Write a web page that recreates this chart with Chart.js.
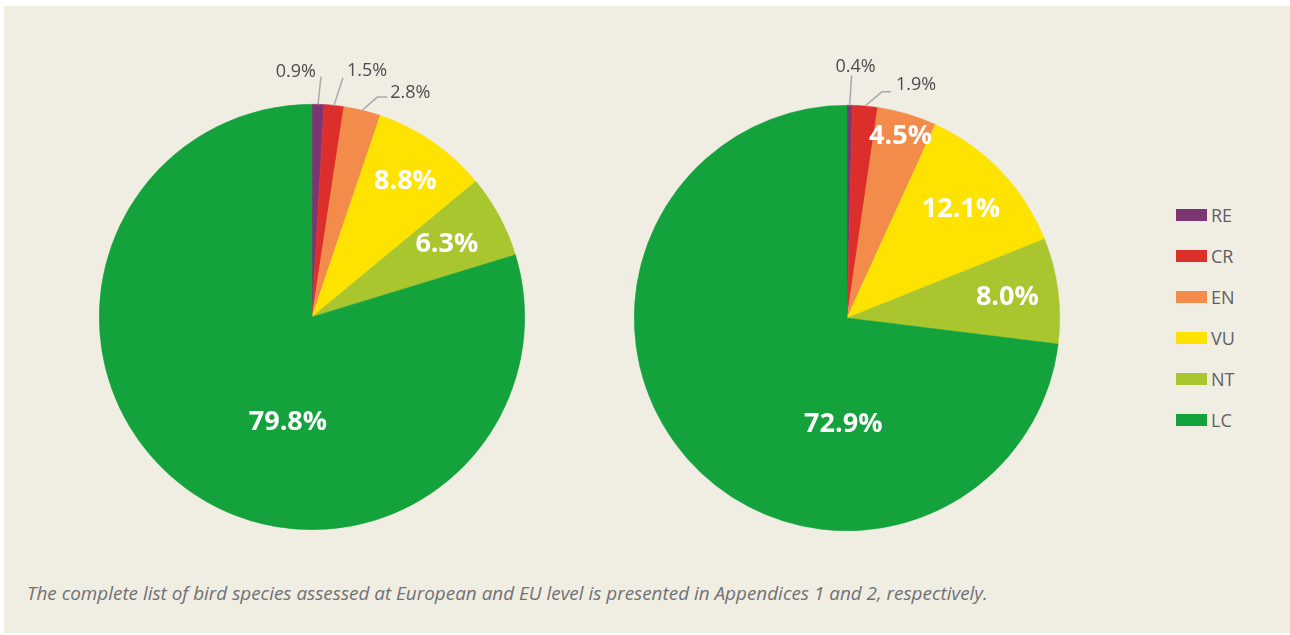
<!DOCTYPE html>
<html>
<head>
<meta charset="utf-8">
<script src="https://cdn.jsdelivr.net/npm/chart.js@4"></script>
<style>
  html, body { margin: 0; padding: 0; background: #fff; }
  body { width: 1290px; height: 635px; position: relative; overflow: hidden; font-family: "Open Sans", sans-serif; }
  #panel { position: absolute; left: 4px; top: 6px; width: 1286px; height: 627px; background: #f0ede3; }
  .pie { position: absolute; width: 520px; height: 520px; }
  #pie-eu27 { left: 52px; top: 57px; }
  #pie-eu { left: 587px; top: 58px; }
  #legend { position: absolute; left: 1176px; top: 194px; }
  .lg-item { height: 41px; display: flex; align-items: center; }
  .lg-sw { width: 31px; height: 12px; margin-right: 4px; }
  .lg-txt { font-size: 18px; color: #5f6062; }
  #caption { position: absolute; left: 27px; top: 580px; font-size: 18.9px; font-style: italic; color: #707173; white-space: nowrap; }
</style>
</head>
<body>
<div id="panel"></div>
<div class="pie" id="pie-eu27"><canvas id="c-left" width="520" height="520"></canvas></div>
<div class="pie" id="pie-eu"><canvas id="c-right" width="520" height="520"></canvas></div>
<div id="legend"></div>
<div id="caption">The complete list of bird species assessed at European and EU level is presented in Appendices 1 and 2, respectively.</div>

<script>
// ---- данные ----
const categories   = ["RE", "CR", "EN", "VU", "NT", "LC"];
const colors       = ["#7c3671", "#dc2e2a", "#f38c4b", "#ffe300", "#a9c62f", "#13a23b"];
const europeValues = [0.9, 1.5, 2.8, 8.8, 6.3, 79.8];
const euValues     = [0.4, 1.9, 4.5, 12.1, 8.0, 72.9];

// подписи внутри: доля радиуса (null = подпись снаружи), угол по часовой от верха (null = середина сектора)
const europeInRadius = [null, null, null, 0.775, 0.72, 0.51];
const europeInAngle  = [null, null, null, null, null, 192.8];
const euInRadius     = [null, null, 0.89, 0.74, 0.76, 0.5];
const euInAngle      = [null, null, null, null, null, 182];

// выноски: длина, наклон (град), горизонтальный хвост, выравнивание текста, сдвиг текста
const europeLeaders = [
  { len: 28, tilt: 4.5, hook: 0,  align: "right",  dx: -5, dy: -5 },
  { len: 29, tilt: 12,  hook: 0,  align: "left",   dx: 4,  dy: -7 },
  { len: 20, tilt: 35,  hook: 10, align: "left",   dx: 3,  dy: -4 },
];
const euLeaders = [
  { len: 30, tilt: 3,   hook: 0,  align: "center", dx: 4,  dy: -8 },
  { len: 22, tilt: 45,  hook: 9,  align: "left",   dx: 5,  dy: -7 },
];

const fmt = v => v.toFixed(1) + "%";

const pieLabels = {
  id: "pieLabels",
  afterDatasetsDraw(chart, args, opts) {
    const ctx = chart.ctx;
    const meta = chart.getDatasetMeta(0);
    const values = chart.data.datasets[0].data;
    ctx.save();
    meta.data.forEach((arc, i) => {
      const p = arc.getProps(["x", "y", "startAngle", "endAngle", "outerRadius"], true);
      const mid = (p.startAngle + p.endAngle) / 2;
      const frac = opts.inRadius[i];
      if (frac != null) {
        const a = opts.inAngle[i] != null ? (opts.inAngle[i] - 90) * Math.PI / 180 : mid;
        const r = p.outerRadius * frac;
        ctx.font = "bold 27px 'Open Sans'";
        ctx.fillStyle = "#ffffff";
        ctx.textAlign = "center";
        ctx.textBaseline = "middle";
        ctx.fillText(fmt(values[i]), p.x + Math.cos(a) * r, p.y + Math.sin(a) * r);
        return;
      }
      const ld = opts.leaders[i];
      if (!ld) return;
      const x0 = p.x + Math.cos(mid) * p.outerRadius;
      const y0 = p.y + Math.sin(mid) * p.outerRadius;
      const dir = mid + ld.tilt * Math.PI / 180;
      const x1 = x0 + Math.cos(dir) * ld.len;
      const y1 = y0 + Math.sin(dir) * ld.len;
      const x2 = x1 + ld.hook;
      ctx.strokeStyle = "#a8a9ab";
      ctx.lineWidth = 1.5;
      ctx.beginPath();
      ctx.moveTo(x0, y0);
      ctx.lineTo(x1, y1);
      if (ld.hook) ctx.lineTo(x2, y1);
      ctx.stroke();
      ctx.font = "18px 'Open Sans'";
      ctx.fillStyle = "#4d4d4f";
      ctx.textAlign = ld.align;
      ctx.textBaseline = "middle";
      ctx.fillText(fmt(values[i]), x2 + ld.dx, y1 + ld.dy);
    });
    ctx.restore();
  }
};

function makePie(canvasId, values, inRadius, inAngle, leaders) {
  return new Chart(document.getElementById(canvasId), {
    type: "pie",
    data: {
      labels: categories,
      datasets: [{ data: values, backgroundColor: colors, borderColor: colors, borderWidth: 0.5 }],
    },
    options: {
      responsive: false,
      animation: false,
      layout: { padding: 47 },
      plugins: {
        legend: { display: false },
        tooltip: { enabled: false },
        pieLabels: { inRadius, inAngle, leaders },
      },
    },
    plugins: [pieLabels],
  });
}

makePie("c-left", europeValues, europeInRadius, europeInAngle, europeLeaders);
makePie("c-right", euValues, euInRadius, euInAngle, euLeaders);

// легенда
const legend = document.getElementById("legend");
categories.forEach((c, i) => {
  const item = document.createElement("div");
  item.className = "lg-item";
  item.innerHTML = `<div class="lg-sw" style="background:${colors[i]}"></div><span class="lg-txt">${c}</span>`;
  legend.appendChild(item);
});
</script>
</body>
</html>
